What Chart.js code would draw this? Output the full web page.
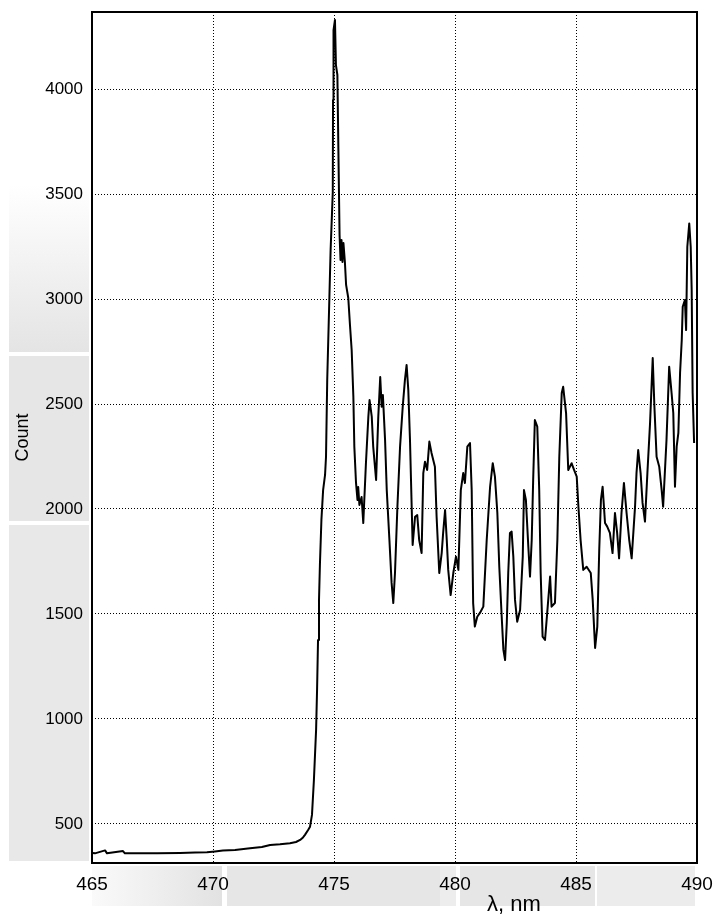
<!DOCTYPE html>
<html lang="en">
<head>
    <meta charset="UTF-8">
    <title>Spectrum</title>
    <script src="https://cdn.jsdelivr.net/npm/chart.js"></script>
    <style>
        body {
            margin: 0;
            padding: 0;
            background-color: #ffffff;
        }

        .chart-container {
            position: relative;
            width: 717px;
            height: 919px;
        }
    </style>
</head>
<body>

<div class="chart-container">
    <canvas id="spectrum"></canvas>
</div>

<script>
    // wavelength (nm) and counts
    const wavelength = [
        465.02, 465.12, 465.54, 465.62, 466.28, 466.36, 467.69, 468.64, 469.26, 469.75,
        470.08, 470.41, 470.91, 471.53, 472.02, 472.36, 472.77, 473.18, 473.43, 473.60,
        473.72, 473.80, 473.93, 474.01, 474.09, 474.17, 474.26, 474.30, 474.34, 474.38,
        474.42, 474.48, 474.55, 474.63, 474.67, 474.72, 474.81, 474.86, 474.95, 474.96,
        474.98, 475.04, 475.08, 475.14, 475.18, 475.23, 475.27, 475.31, 475.35, 475.39,
        475.45, 475.50, 475.59, 475.66, 475.73, 475.80, 475.84, 475.91, 475.97, 476.00,
        476.05, 476.14, 476.21, 476.32, 476.42, 476.47, 476.56, 476.62, 476.74, 476.83,
        476.91, 476.97, 477.02, 477.11, 477.18, 477.29, 477.38, 477.45, 477.52, 477.62,
        477.73, 477.84, 477.93, 478.00, 478.07, 478.14, 478.21, 478.25, 478.35, 478.44,
        478.52, 478.62, 478.69, 478.76, 478.85, 478.94, 479.03, 479.17, 479.24, 479.35,
        479.45, 479.51, 479.59, 479.66, 479.72, 479.82, 479.93, 480.04, 480.14, 480.24,
        480.34, 480.41, 480.51, 480.62, 480.69, 480.75, 480.82, 480.92, 481.03, 481.17,
        481.31, 481.45, 481.56, 481.65, 481.75, 481.83, 481.93, 482.00, 482.07, 482.14,
        482.20, 482.27, 482.34, 482.41, 482.48, 482.57, 482.69, 482.80, 482.85, 482.93,
        483.03, 483.10, 483.17, 483.23, 483.30, 483.40, 483.48, 483.54, 483.62, 483.72,
        483.81, 483.93, 483.99, 484.13, 484.23, 484.31, 484.41, 484.47, 484.59, 484.68,
        484.82, 484.92, 485.03, 485.10, 485.19, 485.30, 485.44, 485.61, 485.69, 485.79,
        485.88, 485.96, 486.03, 486.10, 486.20, 486.29, 486.40, 486.51, 486.61, 486.70,
        486.78, 486.88, 486.98, 487.09, 487.20, 487.30, 487.44, 487.50, 487.57, 487.67,
        487.75, 487.85, 487.95, 488.06, 488.17, 488.24, 488.33, 488.44, 488.54, 488.60,
        488.74, 488.85, 488.95, 489.02, 489.09, 489.16, 489.23, 489.30, 489.37, 489.41,
        489.50, 489.55, 489.60, 489.68, 489.74, 489.78, 489.82, 489.88
    ];

    const counts = [
        362, 360, 374, 360, 371, 360, 360, 362, 364, 365,
        369, 373, 376, 384, 390, 400, 403, 408, 414, 424,
        436, 448, 471, 487, 543, 709, 948, 1138, 1376, 1567,
        1743, 1948, 2090, 2162, 2249, 2614, 3011, 3233, 3510, 3948,
        4281, 4329, 4114, 4067, 3719, 3305, 3186, 3281, 3176, 3267,
        3176, 3067, 3005, 2876, 2757, 2535, 2297, 2124, 2043, 2105,
        2019, 2057, 1933, 2219, 2440, 2519, 2440, 2297, 2138, 2440,
        2629, 2487, 2543, 2329, 2090, 1852, 1648, 1552, 1695, 2011,
        2297, 2487, 2614, 2686, 2567, 2329, 2011, 1829, 1963, 1971,
        1852, 1790, 2171, 2225, 2186, 2321, 2267, 2201, 1963, 1695,
        1790, 1886, 1995, 1852, 1710, 1590, 1695, 1773, 1710, 2090,
        2171, 2124, 2297, 2314, 2090, 1552, 1440, 1487, 1505, 1535,
        1852, 2106, 2218, 2154, 1981, 1725, 1487, 1329, 1281, 1457,
        1695, 1886, 1892, 1773, 1567, 1463, 1519, 1773, 2090, 2043,
        1820, 1678, 1852, 2138, 2424, 2392, 2090, 1695, 1392, 1376,
        1505, 1678, 1535, 1552, 1852, 2249, 2552, 2582, 2457, 2186,
        2218, 2186, 2154, 2011, 1852, 1710, 1725, 1695, 1567, 1338,
        1440, 1805, 2043, 2106, 1933, 1916, 1886, 1790, 1981, 1886,
        1765, 1981, 2124, 1981, 1852, 1765, 2011, 2171, 2281, 2171,
        2029, 1940, 2171, 2409, 2719, 2487, 2249, 2201, 2090, 2011,
        2329, 2678, 2552, 2457, 2106, 2297, 2362, 2648, 2805, 2963,
        2995, 2852, 3249, 3360, 3249, 3043, 2552, 2314
    ];

    const xTicks = [465, 470, 475, 480, 485, 490];
    const yTicks = [500, 1000, 1500, 2000, 2500, 3000, 3500, 4000];

    const font = '"Liberation Sans", Arial, sans-serif';

    // light grey panels behind the axis labels, like in the screenshot
    const backdrop = {
        id: 'backdrop',
        beforeDraw(chart) {
            const c = chart.ctx;
            c.save();
            c.fillStyle = '#ffffff';
            c.fillRect(0, 0, chart.width, chart.height);

            let g = c.createLinearGradient(0, 185, 0, 352);
            g.addColorStop(0, '#ffffff');
            g.addColorStop(1, '#e4e4e4');
            c.fillStyle = g;
            c.fillRect(9, 185, 80, 167);
            c.fillStyle = '#e6e6e6';
            c.fillRect(9, 356, 80, 165);
            c.fillStyle = '#e8e8e8';
            c.fillRect(9, 525, 80, 336);

            g = c.createLinearGradient(92, 0, 222, 0);
            g.addColorStop(0, '#fafafa');
            g.addColorStop(1, '#e2e2e2');
            c.fillStyle = g;
            c.fillRect(92, 866, 130, 40);
            c.fillStyle = '#e6e6e6';
            c.fillRect(227, 866, 213, 40);
            c.fillStyle = '#ededed';
            c.fillRect(440, 866, 16, 40);
            c.fillStyle = '#e6e6e6';
            c.fillRect(460, 866, 135, 40);
            c.fillStyle = '#ececec';
            c.fillRect(597, 866, 98, 40);
            c.restore();
        },
        afterDraw(chart) {
            const a = chart.chartArea;
            const c = chart.ctx;
            c.save();
            c.strokeStyle = '#000';
            c.lineWidth = 2;
            c.strokeRect(a.left, a.top, a.right - a.left, a.bottom - a.top);
            c.fillStyle = '#000';
            c.font = '22px ' + font;
            c.textAlign = 'center';
            c.textBaseline = 'middle';
            c.fillText('λ, nm', 514, 905);
            c.restore();
        }
    };

    const ctx = document.getElementById('spectrum').getContext('2d');
    new Chart(ctx, {
        type: 'line',
        data: {
            datasets: [{
                data: wavelength.map((w, i) => ({ x: w, y: counts[i] })),
                borderColor: '#000',
                borderWidth: 2,
                borderJoinStyle: 'round',
                pointRadius: 0,
                tension: 0,
                fill: false
            }]
        },
        options: {
            responsive: true,
            maintainAspectRatio: false,
            animation: false,
            layout: {
                padding: { top: 12, right: 20, left: 0, bottom: 0 }
            },
            plugins: {
                legend: { display: false },
                tooltip: { enabled: false }
            },
            scales: {
                x: {
                    type: 'linear',
                    min: 465,
                    max: 490,
                    afterBuildTicks: (s) => { s.ticks = xTicks.map(v => ({ value: v })); },
                    afterFit: (s) => {
                        s.height = 56;
                        s.paddingLeft = 0;
                        s.paddingRight = 0;
                    },
                    grid: { color: '#000', lineWidth: 1, drawTicks: false },
                    border: { display: false, dash: [1, 2] },
                    ticks: {
                        color: '#000',
                        padding: 10,
                        maxRotation: 0,
                        callback: (v) => String(v),
                        font: { family: font, size: 19 }
                    }
                },
                y: {
                    min: 314,
                    max: 4367,
                    afterBuildTicks: (s) => { s.ticks = yTicks.map(v => ({ value: v })); },
                    afterFit: (s) => {
                        s.width = 92;
                        s.paddingTop = 0;
                        s.paddingBottom = 0;
                    },
                    grid: { color: '#000', lineWidth: 1, drawTicks: false },
                    border: { display: false, dash: [1, 2] },
                    title: {
                        display: true,
                        text: 'Count',
                        color: '#000',
                        padding: { top: 12, bottom: 0 },
                        font: { family: font, size: 18 }
                    },
                    ticks: {
                        color: '#000',
                        padding: 9,
                        callback: (v) => String(v),
                        font: { family: font, size: 17 }
                    }
                }
            }
        },
        plugins: [backdrop]
    });
</script>
</body>
</html>
